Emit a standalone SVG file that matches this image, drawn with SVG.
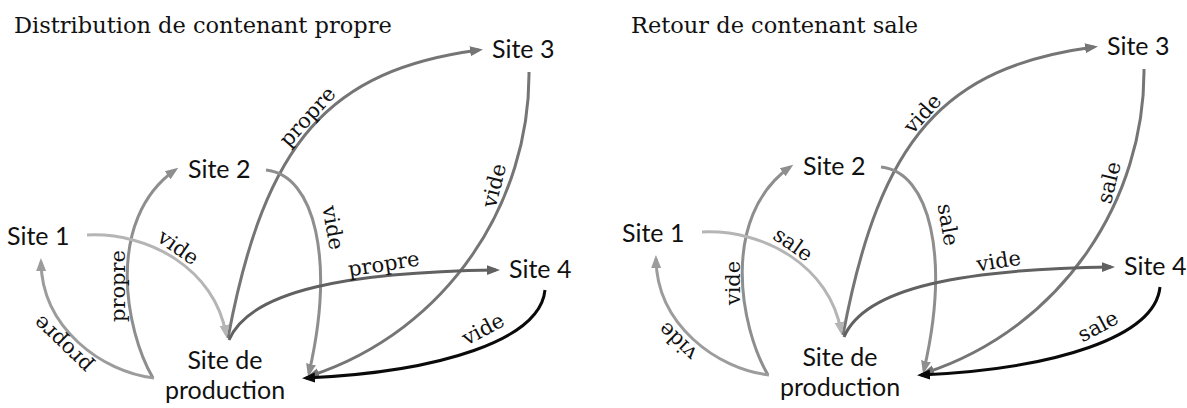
<svg xmlns="http://www.w3.org/2000/svg" width="1187" height="408" viewBox="0 0 1187 408">
<style>
.title{font-family:"DejaVu Serif","Liberation Serif",serif;font-size:22.5px;fill:#111}
.node{font-family:Lato,"Noto Sans",sans-serif;font-size:25px;fill:#111}
.lbl{font-family:"DejaVu Serif","Liberation Serif",serif;font-size:21px;fill:#111;text-anchor:middle}
.mid{text-anchor:middle}
.e{fill:none;stroke-width:3;stroke-linecap:butt}
.c1a{stroke:#9c9c9c}
.c1b{stroke:#b5b5b5}
.c2{stroke:#8e8e8e}
.c3{stroke:#757575}
.c4a{stroke:#616161}
.c4b{stroke:#0a0a0a}
</style>
<defs>
<marker id="m1a" markerUnits="userSpaceOnUse" markerWidth="14" markerHeight="12" viewBox="0 0 14 12" refX="9" refY="6" orient="auto"><path d="M0,1 L13,6 L0,11 z" fill="#9c9c9c"/></marker>
<marker id="m1b" markerUnits="userSpaceOnUse" markerWidth="14" markerHeight="12" viewBox="0 0 14 12" refX="9" refY="6" orient="auto"><path d="M0,1 L13,6 L0,11 z" fill="#b5b5b5"/></marker>
<marker id="m2" markerUnits="userSpaceOnUse" markerWidth="14" markerHeight="12" viewBox="0 0 14 12" refX="9" refY="6" orient="auto"><path d="M0,1 L13,6 L0,11 z" fill="#8e8e8e"/></marker>
<marker id="m3" markerUnits="userSpaceOnUse" markerWidth="14" markerHeight="12" viewBox="0 0 14 12" refX="9" refY="6" orient="auto"><path d="M0,1 L13,6 L0,11 z" fill="#757575"/></marker>
<marker id="m4a" markerUnits="userSpaceOnUse" markerWidth="14" markerHeight="12" viewBox="0 0 14 12" refX="9" refY="6" orient="auto"><path d="M0,1 L13,6 L0,11 z" fill="#616161"/></marker>
<marker id="m4b" markerUnits="userSpaceOnUse" markerWidth="14" markerHeight="12" viewBox="0 0 14 12" refX="9" refY="6" orient="auto"><path d="M0,1 L13,6 L0,11 z" fill="#0a0a0a"/></marker>
</defs>

<text class="title" x="14" y="33">Distribution de contenant propre</text>
<text class="title" x="631" y="33">Retour de contenant sale</text>

<g id="distribution">
  <g id="dist-connectors">
    <path class="e c3" d="M228,338 C265,140 330,70 479,50" marker-end="url(#m3)"/>
    <path class="e c3" d="M529,72 C530,200 450,330 310,376" marker-end="url(#m3)"/>
    <path class="e c2" d="M266,170 C315,175 335,260 309,373" marker-end="url(#m2)"/>
    <path class="e c2" d="M153,378 C125,330 105,220 175,170" marker-end="url(#m2)"/>
    <path class="e c1a" d="M154,378 C102,372 42,328 41,262" marker-end="url(#m1a)"/>
    <path class="e c1b" d="M87,235 C150,232 215,270 226,334" marker-end="url(#m1b)"/>
    <path class="e c4a" d="M229,340 C250,290 350,272 496,270" marker-end="url(#m4a)"/>
    <path class="e c4b" d="M545,290 C540,340 440,372 306,378" marker-end="url(#m4b)"/>
    <text class="lbl" transform="translate(309,118) rotate(-48)" y="5">propre</text>
    <text class="lbl" transform="translate(496,186) rotate(-76)" y="5">vide</text>
    <text class="lbl" transform="translate(331,228) rotate(80)" y="5">vide</text>
    <text class="lbl" transform="translate(120,286) rotate(-90)" y="5">propre</text>
    <text class="lbl" transform="translate(64,343) rotate(-136)" y="5">propre</text>
    <text class="lbl" transform="translate(177,249) rotate(35)" y="5">vide</text>
    <text class="lbl" transform="translate(384,266) rotate(-9)" y="5">propre</text>
    <text class="lbl" transform="translate(484,331) rotate(-28)" y="5">vide</text>
  </g>
  <g id="dist-site1"><text class="node" x="7" y="245">Site 1</text></g>
  <g id="dist-site2"><text class="node" x="188" y="178">Site 2</text></g>
  <g id="dist-site3"><text class="node" x="492" y="58">Site 3</text></g>
  <g id="dist-site4"><text class="node" x="509" y="278">Site 4</text></g>
  <g id="dist-production"><text class="node mid" x="225" y="369">Site de</text><text class="node mid" x="225" y="399">production</text></g>
</g>

<g id="retour" transform="translate(615,-3)">
  <g id="ret-connectors">
    <path class="e c3" d="M228,338 C265,140 330,70 479,50" marker-end="url(#m3)"/>
    <path class="e c3" d="M529,72 C530,200 450,330 310,376" marker-end="url(#m3)"/>
    <path class="e c2" d="M266,170 C315,175 335,260 309,373" marker-end="url(#m2)"/>
    <path class="e c2" d="M153,378 C125,330 105,220 175,170" marker-end="url(#m2)"/>
    <path class="e c1a" d="M154,378 C102,372 42,328 41,262" marker-end="url(#m1a)"/>
    <path class="e c1b" d="M87,235 C150,232 215,270 226,334" marker-end="url(#m1b)"/>
    <path class="e c4a" d="M229,340 C250,290 350,272 496,270" marker-end="url(#m4a)"/>
    <path class="e c4b" d="M545,290 C540,340 440,372 306,378" marker-end="url(#m4b)"/>
    <text class="lbl" transform="translate(309,118) rotate(-48)" y="5">vide</text>
    <text class="lbl" transform="translate(496,186) rotate(-76)" y="5">sale</text>
    <text class="lbl" transform="translate(331,228) rotate(80)" y="5">sale</text>
    <text class="lbl" transform="translate(120,286) rotate(-90)" y="5">vide</text>
    <text class="lbl" transform="translate(64,343) rotate(-136)" y="5">vide</text>
    <text class="lbl" transform="translate(177,249) rotate(35)" y="5">sale</text>
    <text class="lbl" transform="translate(384,266) rotate(-9)" y="5">vide</text>
    <text class="lbl" transform="translate(484,331) rotate(-28)" y="5">sale</text>
  </g>
  <g id="ret-site1"><text class="node" x="7" y="245">Site 1</text></g>
  <g id="ret-site2"><text class="node" x="188" y="178">Site 2</text></g>
  <g id="ret-site3"><text class="node" x="492" y="58">Site 3</text></g>
  <g id="ret-site4"><text class="node" x="509" y="278">Site 4</text></g>
  <g id="ret-production"><text class="node mid" x="225" y="369">Site de</text><text class="node mid" x="225" y="399">production</text></g>
</g>
</svg>
